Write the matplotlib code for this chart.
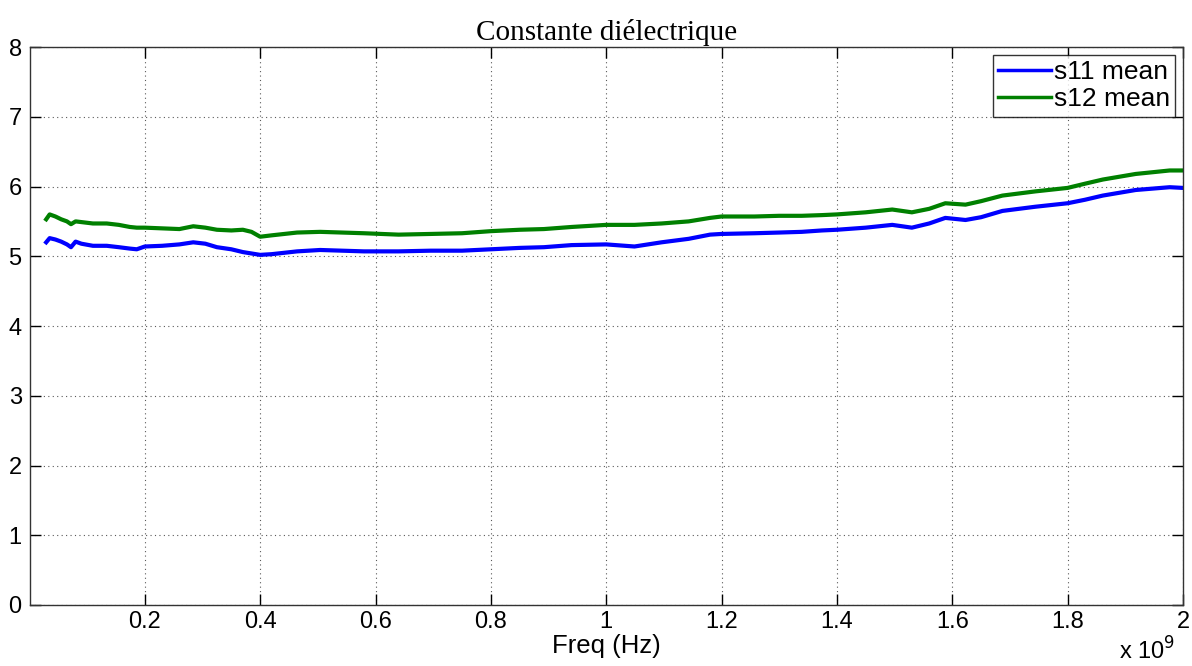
import matplotlib
matplotlib.use("Agg")
import matplotlib.pyplot as plt
from matplotlib.ticker import FuncFormatter, FixedLocator

# Frequency in GHz (plotted in Hz)
freq_ghz = [0.029, 0.035, 0.045, 0.055, 0.065, 0.072, 0.080, 0.090, 0.110, 0.134, 0.155, 0.174,
            0.186, 0.200, 0.230, 0.260, 0.284, 0.305, 0.325, 0.350, 0.370, 0.385, 0.400, 0.420,
            0.464, 0.504, 0.580, 0.640, 0.696, 0.750, 0.800, 0.850, 0.892, 0.940, 1.000, 1.049,
            1.096, 1.143, 1.180, 1.200, 1.257, 1.300, 1.339, 1.374, 1.400, 1.450, 1.496, 1.530,
            1.560, 1.588, 1.623, 1.650, 1.687, 1.744, 1.800, 1.830, 1.861, 1.918, 1.977, 2.000]

s11_mean = [5.20, 5.26, 5.24, 5.21, 5.17, 5.13, 5.21, 5.18, 5.15, 5.15, 5.13, 5.11,
            5.10, 5.14, 5.15, 5.17, 5.20, 5.18, 5.13, 5.10, 5.06, 5.04, 5.02, 5.03,
            5.07, 5.09, 5.07, 5.07, 5.08, 5.08, 5.10, 5.12, 5.13, 5.16, 5.17, 5.14,
            5.20, 5.25, 5.31, 5.32, 5.33, 5.34, 5.35, 5.37, 5.38, 5.41, 5.45, 5.41,
            5.47, 5.55, 5.52, 5.56, 5.65, 5.71, 5.76, 5.81, 5.87, 5.95, 5.99, 5.98]

s12_mean = [5.53, 5.60, 5.57, 5.53, 5.50, 5.46, 5.50, 5.49, 5.47, 5.47, 5.45, 5.42,
            5.41, 5.41, 5.40, 5.39, 5.43, 5.41, 5.38, 5.37, 5.38, 5.35, 5.28, 5.30,
            5.34, 5.35, 5.33, 5.31, 5.32, 5.33, 5.36, 5.38, 5.39, 5.42, 5.45, 5.45,
            5.47, 5.50, 5.55, 5.57, 5.57, 5.58, 5.58, 5.59, 5.60, 5.63, 5.67, 5.63,
            5.68, 5.76, 5.74, 5.79, 5.87, 5.93, 5.98, 6.04, 6.10, 6.18, 6.23, 6.23]

series_labels = ["s11 mean", "s12 mean"]
x_ticks_ghz = [0.2, 0.4, 0.6, 0.8, 1.0, 1.2, 1.4, 1.6, 1.8, 2.0]
y_ticks = [0, 1, 2, 3, 4, 5, 6, 7, 8]

freq_hz = [f * 1e9 for f in freq_ghz]

plt.rcParams['font.family'] = ['Liberation Sans', 'DejaVu Sans']

fig = plt.figure(figsize=(11.92, 6.66), dpi=100)
ax = fig.add_axes([0.0252, 0.0916, 0.9672, 0.8378])

ax.plot(freq_hz, s11_mean, color=(0, 0, 1), lw=3, label=series_labels[0])
ax.plot(freq_hz, s12_mean, color=(0, 0.5, 0), lw=3, label=series_labels[1])

ax.set_xlim(0.001e9, 2e9)
ax.set_ylim(0, 8)
ax.xaxis.set_major_locator(FixedLocator([t * 1e9 for t in x_ticks_ghz]))
ax.xaxis.set_major_formatter(FuncFormatter(lambda v, p: '%g' % (v / 1e9)))
ax.set_yticks(y_ticks)

ax.tick_params(direction='in', length=8, width=1, top=True, right=True,
               labelsize=17, colors='black', pad=4)
ax.tick_params(axis='y', pad=6)
ax.grid(True, color='0.35', linestyle=(0, (1, 3)), linewidth=0.8)
for sp in ax.spines.values():
    sp.set_linewidth(1)
    sp.set_color('0.2')

ax.set_xlabel('Freq (Hz)', fontsize=18.5, labelpad=1)
ax.set_title('Constante diélectrique', fontsize=21, family='Liberation Serif', pad=5)
fig.text(0.962, 0.002, r'x 10$^9$', fontsize=17, ha='center', va='bottom')

leg = ax.legend(loc='upper right', fontsize=19, frameon=True, fancybox=False,
                edgecolor='black', borderpad=0.2, handlelength=2.0, handletextpad=0.1,
                labelspacing=0.12, borderaxespad=0.3)
leg.get_frame().set_linewidth(1)
for line in leg.get_lines():
    line.set_linewidth(2.5)

fig.savefig('out.png', dpi=100)
